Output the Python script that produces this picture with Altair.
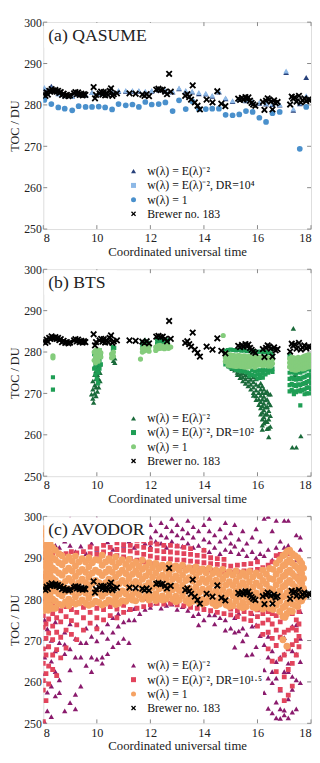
import altair as alt
import pandas as pd

FONT = "Liberation Serif"
W, H = 273, 211
XPATH = "M-1,-0.62L-0.62,-1L0,-0.38L0.62,-1L1,-0.62L0.38,0L1,0.62L0.62,1L0,0.38L-0.62,1L-1,0.62L-0.38,0Z"

X_TICKS = [8, 10, 12, 14, 16, 18]
Y_TICKS = [250, 260, 270, 280, 290, 300]
BREWER_LABEL = "Brewer no. 183"

# Brewer no. 183 (same in all panels): (time, TOC)
BREWER = [
    (8.03, 282.7), (8.08, 282.2), (8.12, 283.0), (8.17, 282.5), (8.22, 283.4), (8.27, 283.2),
    (8.31, 283.8), (8.36, 283.5), (8.40, 283.3), (8.45, 283.6), (8.50, 283.2), (8.55, 283.4),
    (8.60, 282.9), (8.65, 283.1), (8.70, 282.4), (8.76, 282.7), (8.82, 282.2), (8.88, 282.4),
    (8.94, 282.1), (9.00, 282.3), (9.15, 282.8), (9.20, 283.1), (9.25, 282.6), (9.30, 283.0),
    (9.36, 282.4), (9.42, 282.7), (9.47, 282.3), (9.52, 282.6), (9.57, 282.4), (9.88, 284.3),
    (9.93, 281.6), (9.97, 282.4), (10.10, 282.8), (10.16, 283.2), (10.21, 282.5), (10.26, 283.1),
    (10.31, 282.3), (10.36, 282.9), (10.42, 282.4), (10.48, 283.4), (10.53, 284.0), (10.58, 282.2),
    (10.63, 282.6), (10.75, 282.8), (11.22, 282.8), (11.45, 282.7), (11.70, 282.5), (11.78, 282.2),
    (11.86, 282.6), (11.95, 282.1), (12.22, 283.7), (12.30, 283.9), (12.38, 283.6), (12.46, 283.7),
    (12.55, 283.2), (12.62, 282.6), (12.70, 287.5), (12.76, 283.2), (13.30, 282.2), (13.38, 282.6),
    (13.45, 281.9), (13.52, 281.3), (13.58, 284.7), (13.66, 280.6), (13.76, 279.8), (13.85, 278.9),
    (14.10, 281.3), (14.32, 280.6), (14.50, 283.3), (14.65, 280.3), (14.80, 279.7), (15.28, 281.5),
    (15.35, 281.2), (15.42, 281.7), (15.48, 281.3), (15.55, 281.9), (15.60, 281.4), (15.66, 281.8),
    (15.72, 281.0), (15.78, 280.5), (15.84, 280.1), (15.92, 279.8), (16.20, 280.7), (16.26, 278.8),
    (16.32, 281.0), (16.38, 281.6), (16.44, 281.3), (16.50, 280.8), (16.56, 278.9), (16.62, 281.1),
    (16.68, 280.4), (16.75, 280.7), (17.22, 280.1), (17.28, 282.0), (17.33, 281.5), (17.40, 281.8),
    (17.46, 280.8), (17.55, 282.2), (17.62, 280.6), (17.68, 281.1), (17.75, 281.6), (17.82, 280.9),
    (17.90, 281.3), (17.97, 281.2),
]

# ---------------- (a) QASUME ----------------
A_TRI = [
    (8.04, [283.9]), (8.30, [284.5]), (8.56, [282.8]), (8.80, [282.3]), (9.08, [282.1]), (9.32, [282.6]),
    (9.58, [282.4]), (9.82, [283.0]), (10.07, [282.8]), (10.31, [282.7]), (10.57, [283.0]),
    (10.81, [283.3]), (11.08, [283.3]), (11.33, [283.3]), (11.57, [283.3]), (11.81, [283.1]),
    (12.05, [283.3]), (12.31, [283.6]), (12.56, [283.3]), (12.83, [283.1]), (13.07, [283.9]),
    (13.32, [283.3]), (13.56, [283.1]), (13.81, [282.7]), (14.07, [282.6]), (14.31, [282.1]),
    (14.56, [283.1]), (14.81, [281.5]), (15.07, [280.8]), (15.32, [281.3]), (15.57, [281.0]),
    (15.82, [280.6]), (16.07, [280.4]), (16.32, [280.2]), (16.56, [280.1]), (16.83, [280.0]),
    (17.07, [287.8]), (17.34, [278.7]), (17.58, [280.3]), (17.82, [286.6]),
]
A_LIGHT = [
    (8.04, [284.2]), (8.30, [284.0]), (8.56, [282.6]), (8.80, [282.2]), (9.08, [282.0]), (9.32, [282.5]),
    (9.58, [282.4]), (9.82, [283.0]), (10.07, [282.9]), (10.31, [282.7]), (10.57, [283.1]),
    (10.81, [283.5]), (11.08, [283.5]), (11.33, [283.5]), (11.57, [283.5]), (11.81, [283.3]),
    (12.05, [283.5]), (12.31, [283.8]), (12.56, [283.5]), (12.83, [283.3]), (13.07, [284.1]),
    (13.32, [283.5]), (13.56, [283.3]), (13.81, [283.0]), (14.07, [282.8]), (14.31, [282.3]),
    (14.56, [283.3]), (14.81, [281.7]), (15.07, [281.0]), (15.32, [281.5]), (15.57, [281.2]),
    (15.82, [280.8]), (16.07, [280.6]), (16.32, [280.4]), (16.56, [280.3]), (16.83, [280.1]),
    (17.07, [288.2]), (17.34, [279.0]), (17.58, [280.5]), (17.82, [282.2]),
]
A_CIRC = [
    (8.04, [281.2]), (8.30, [280.2]), (8.56, [279.4]), (8.80, [279.1]), (9.08, [278.7]), (9.32, [279.7]),
    (9.58, [279.5]), (9.82, [279.5]), (10.07, [279.6]), (10.31, [279.4]), (10.57, [278.9]),
    (10.81, [280.2]), (11.08, [279.9]), (11.33, [280.1]), (11.57, [279.5]), (11.81, [280.7]),
    (12.05, [280.1]), (12.31, [280.2]), (12.56, [280.6]), (12.83, [278.5]), (13.07, [281.1]),
    (13.32, [279.0]), (13.56, [280.9]), (13.81, [279.0]), (14.07, [279.0]), (14.31, [279.1]),
    (14.56, [279.1]), (14.81, [277.6]), (15.07, [277.5]), (15.32, [277.7]), (15.57, [278.5]),
    (15.82, [278.3]), (16.07, [276.9]), (16.32, [275.9]), (16.56, [278.0]), (16.83, [278.3]),
    (17.58, [269.4]), (17.82, [279.5]),
]

# ---------------- (b) BTS ----------------
B_TRI = [
    (9.80, [269.8]), (9.85, [268.8, 271.0, 273.0]), (9.88, [267.8]), (9.92, [270.0, 272.0, 274.5, 276.5]),
    (9.97, [269.4, 271.5, 273.5, 275.5, 277.5]), (10.02, [270.5, 272.5, 274.5, 276.5, 278.5]),
    (10.07, [271.5, 273.5, 275.5, 277.8, 279.5]), (10.12, [273.0, 275.0, 277.0]),
    (10.62, [277.9]), (10.67, [277.4, 278.5]), (11.80, [283.0, 281.8]), (12.30, [283.0]),
    (12.45, [282.5]), (12.60, [282.8]),
    (14.85, [278.0, 277.2]), (14.95, [278.2, 277.4, 276.6]), (15.05, [277.8, 276.9, 276.0]),
    (15.15, [277.5, 276.6, 275.6]), (15.25, [277.0, 276.1, 275.1, 274.5]),
    (15.35, [276.5, 275.6, 274.6, 273.8]), (15.45, [276.0, 275.0, 274.0, 273.0]),
    (15.55, [275.5, 274.5, 273.5, 272.4]), (15.65, [275.0, 274.0, 272.9, 271.8]),
    (15.75, [274.5, 273.4, 272.2, 271.0]), (15.85, [274.0, 272.8, 271.5, 270.2, 269.5]),
    (15.95, [273.5, 272.2, 270.8, 269.4, 268.5]), (16.05, [273.8, 271.8, 270.2, 268.6, 267.3]),
    (16.12, [272.5, 271.0, 269.5, 268.0, 266.5, 265.0]),
    (16.18, [271.8, 270.2, 268.6, 267.0, 265.4, 263.8, 262.3, 261.3]),
    (16.24, [271.0, 269.3, 267.6, 266.0, 264.3, 262.8]), (16.30, [270.2, 268.4, 266.7, 265.0, 263.4]),
    (16.36, [270.5, 268.6, 266.8, 265.0, 263.2, 261.5]),
    (16.42, [269.8, 267.8, 265.8, 263.8, 261.6, 259.5]),
    (16.48, [269.8, 267.2, 264.6, 262.0]),
    (17.34, [285.7]), (17.30, [257.0]), (17.45, [257.0]), (17.62, [259.7]),
    (17.40, [272.0, 274.5]), (17.60, [271.0, 273.5]), (17.80, [272.5]),
]
B_SQ = [
    (8.36, [273.9, 270.9]),
    (9.90, [279.5, 276.0]), (9.95, [278.5, 276.5, 274.5]), (10.00, [280.0, 277.5, 275.5, 273.5]),
    (10.05, [279.0, 277.0, 275.0, 272.5]), (10.10, [280.5, 278.0, 276.0]), (10.15, [279.0, 277.0]),
    (10.60, [281.2, 280.2, 279.0]), (10.65, [281.0]),
    (11.70, [281.5, 282.4]), (11.80, [281.8, 282.6]), (11.90, [281.6, 282.2]),
    (12.25, [282.0, 283.0]), (12.35, [282.3, 283.2]), (12.45, [282.0, 282.8]), (12.55, [282.2, 283.0]),
    (12.65, [282.0, 282.8]),
    (14.80, [280.3, 277.0]), (14.90, [280.5, 276.6]), (15.00, [280.6, 276.2]), (15.10, [280.5, 276.0]),
    (15.20, [280.4, 275.7]), (15.30, [280.5, 275.5]), (15.40, [280.3, 275.4]), (15.50, [280.4, 275.3]),
    (15.60, [280.2, 275.1]), (15.70, [280.3, 275.0, 274.2]), (15.80, [280.1, 275.6, 274.5]),
    (15.90, [280.2, 275.4, 274.3]), (16.00, [280.0, 275.5, 274.6, 273.6]),
    (16.10, [280.1, 275.6, 274.6, 273.8]), (16.20, [279.9, 275.7, 274.8, 273.8]),
    (16.30, [280.0, 275.6, 274.6]), (16.40, [279.8, 275.8, 275.0]), (16.50, [279.7, 275.5]),
    (16.56, [280.8, 279.2, 276.0, 275.2]),
    (17.20, [279.2, 275.0, 273.5, 272.0, 270.5]), (17.28, [275.2, 273.8, 272.3, 270.8]),
    (17.36, [275.0, 273.5, 272.0, 270.5, 269.8]), (17.44, [274.8, 273.3, 271.8, 270.3]),
    (17.52, [275.2, 273.7, 272.2, 270.7]), (17.60, [275.0, 273.5, 272.0, 270.5, 267.1]),
    (17.68, [275.3, 273.8, 272.3, 270.8]), (17.76, [275.5, 274.0, 272.5, 271.0, 269.8]),
    (17.84, [275.8, 274.3, 272.8, 271.3, 270.0]), (17.92, [276.0, 274.5, 273.0, 271.5, 270.0]),
    (18.00, [275.5, 274.0, 272.5, 271.0]),
]
B_CIRC = [
    (8.36, [279.1, 278.6]),
    (9.90, [280.0, 278.0]), (9.95, [280.3, 279.0, 277.4]), (10.00, [280.6, 279.5, 278.2]),
    (10.05, [280.2, 279.0, 277.8]), (10.10, [280.4, 279.2]), (10.15, [279.8, 278.8]),
    (10.55, [279.5, 278.6]), (10.62, [280.0, 279.0]),
    (11.63, [278.3]), (11.70, [280.0, 280.8]), (11.78, [280.3, 281.2]), (11.86, [280.5, 281.0]),
    (11.95, [280.2, 281.3]),
    (12.20, [280.4, 281.2]), (12.28, [280.8, 281.5]), (12.36, [280.9, 281.6]), (12.44, [281.0, 281.4]),
    (12.52, [280.8, 281.5]), (12.60, [281.0, 281.7]), (12.68, [280.9, 281.4]), (12.76, [281.2]),
    (14.72, [284.0]),
    (14.80, [279.6, 278.6, 277.7]), (14.90, [279.4, 278.4, 277.5, 276.8]),
    (15.00, [279.3, 278.3, 277.4, 276.7]), (15.10, [279.2, 278.2, 277.3, 276.6]),
    (15.20, [279.1, 278.1, 277.2, 276.5]), (15.30, [279.2, 278.2, 277.3, 276.6]),
    (15.40, [279.0, 278.0, 277.1, 276.5]), (15.50, [279.1, 278.1, 277.2, 276.4]),
    (15.60, [278.9, 277.9, 277.0, 276.3]), (15.70, [279.0, 278.0, 277.1, 276.4]),
    (15.80, [278.8, 277.8, 276.9]), (15.90, [278.9, 277.9, 277.0, 276.3]),
    (16.00, [278.7, 277.7, 276.8]), (16.10, [278.8, 277.8, 276.9]), (16.20, [278.6, 277.6, 276.7]),
    (16.30, [278.7, 277.7, 276.8]), (16.40, [278.6, 277.6, 276.6]), (16.50, [278.5, 277.5, 276.6]),
    (16.56, [278.2, 277.2]),
    (17.20, [278.4, 277.4, 276.4]), (17.28, [278.8, 277.8, 276.8, 275.8]),
    (17.36, [278.6, 277.6, 276.6, 275.7]), (17.44, [278.5, 277.5, 276.5, 275.6]),
    (17.52, [278.7, 277.7, 276.7, 275.8]), (17.60, [278.4, 277.4, 276.4]),
    (17.68, [278.8, 277.8, 276.8, 275.9]), (17.76, [279.0, 278.0, 277.0, 276.0]),
    (17.84, [279.2, 278.2, 277.2, 276.3]), (17.92, [279.3, 278.3, 277.3, 276.4]),
    (18.00, [279.0, 278.0, 277.0]),
]

# ---------------- (c) AVODOR ----------------
C_TRI = [
    (8.05, [250.3, 262.0, 266.0, 275.0, 290.0]), (8.15, [253.0, 257.5, 268.5, 272.8, 292.8]),
    (8.30, [251.6, 259.0, 265.0, 270.0, 288.5, 296.0]), (8.45, [256.6, 262.5, 267.5, 274.5, 293.0]),
    (8.60, [257.4, 260.5, 269.5, 292.5, 297.0]), (8.80, [253.0, 266.8, 269.1, 272.0, 289.5, 294.0]),
    (9.00, [255.0, 262.9, 268.0, 274.0, 293.0, 299.5]), (9.20, [253.5, 257.0, 266.0, 270.5, 291.5, 295.5]),
    (9.40, [259.0, 266.0, 269.5, 292.8, 298.0]), (9.60, [264.0, 269.5, 273.0, 291.0, 294.5]),
    (9.80, [262.5, 266.0, 271.0, 293.5, 296.8]), (10.00, [265.5, 269.9, 273.5, 292.0, 299.5]),
    (10.20, [264.5, 266.0, 272.0, 290.5, 295.0]), (10.40, [266.8, 270.5, 274.0, 293.8, 298.5]),
    (10.60, [268.5, 272.0, 275.5, 292.0, 296.0]), (10.80, [269.5, 273.5, 276.5, 294.5, 299.0]),
    (11.00, [270.5, 274.5, 293.0, 296.8]), (11.20, [269.5, 275.0, 277.5, 294.0, 298.0]),
    (11.40, [275.0, 277.7, 292.5, 295.5]), (11.60, [276.5, 294.5, 297.5]),
    (11.80, [277.5, 280.1, 293.5, 296.0, 299.0]), (12.00, [278.0, 292.8, 295.0, 298.0]),
    (12.20, [279.0, 294.0, 296.5]), (12.40, [277.8, 293.5, 295.5, 298.5]),
    (12.60, [278.5, 292.5, 295.0, 297.5]), (12.80, [278.8, 294.0, 296.5, 299.5]),
    (13.00, [277.5, 293.0, 295.5, 298.0]), (13.20, [278.2, 292.8, 294.8, 297.0]),
    (13.40, [277.3, 293.5, 296.0, 299.0]), (13.60, [276.0, 292.5, 295.0, 297.5]),
    (13.80, [273.8, 276.5, 293.0, 296.5]), (14.00, [275.0, 292.0, 294.5, 298.0]),
    (14.20, [276.2, 291.5, 293.8, 296.5, 299.5]), (14.40, [276.2, 274.0, 292.5, 295.5]),
    (14.60, [275.5, 291.0, 294.0, 297.0]), (14.80, [275.0, 272.5, 292.0, 295.0, 298.5]),
    (15.00, [273.0, 291.5, 293.5, 296.0]), (15.15, [268.4, 272.0, 275.5, 292.8, 298.0]),
    (15.30, [272.3, 276.6, 291.0, 294.5]), (15.45, [269.9, 273.0, 292.0, 296.5]),
    (15.60, [260.2, 266.5, 271.5, 290.5, 293.5]), (15.80, [266.7, 273.5, 276.5, 291.5, 295.0]),
    (15.95, [263.0, 268.5, 273.8, 290.0, 297.0]), (16.10, [258.5, 265.0, 271.2, 291.0, 294.0]),
    (16.25, [257.4, 262.9, 269.0, 290.5, 299.5]), (16.40, [253.6, 260.9, 266.0, 271.0, 292.0, 300.0]),
    (16.55, [252.5, 259.8, 262.5, 267.5, 289.5, 296.5]), (16.70, [251.3, 255.1, 260.9, 264.9, 292.5, 299.0]),
    (16.85, [251.2, 253.5, 258.0, 266.0, 290.5, 294.0]),
    (17.00, [252.0, 253.2, 262.5, 266.8, 270.7, 292.5, 299.0]),
    (17.15, [251.3, 255.9, 262.5, 264.5, 293.0, 299.0]), (17.30, [252.7, 258.2, 261.3, 267.5, 273.5, 291.5]),
    (17.45, [253.5, 260.5, 266.7, 273.8, 289.5, 295.5]), (17.60, [259.8, 264.9, 270.5, 277.0, 292.0, 295.0]),
]
C_SQ = [
    (8.00, [250.4, 258.0, 260.3, 264.5, 268.0, 273.2, 276.0, 280.0, 285.5, 291.0]),
    (8.10, [255.5, 262.0, 266.5, 270.5, 274.0, 277.5, 279.5, 292.5]),
    (8.20, [259.5, 263.8, 268.5, 271.8, 275.2, 278.0]), (8.35, [263.0, 266.5, 270.2, 273.5, 276.5, 279.0, 291.0]),
    (8.50, [261.5, 267.8, 272.0, 275.5, 278.0]), (8.65, [265.8, 270.8, 274.5, 277.2, 290.8]),
    (8.85, [268.2, 272.5, 275.8, 278.2, 291.0]), (9.05, [271.5, 274.8, 277.5, 291.5]),
    (9.25, [270.2, 273.8, 276.8, 279.0, 291.2]), (9.50, [272.5, 275.5, 278.0, 291.5]),
    (9.75, [274.2, 276.8, 278.8, 291.0, 292.6]), (10.00, [272.8, 275.5, 277.8, 290.8, 292.2]),
    (10.25, [275.0, 277.5, 291.4, 293.0]), (10.50, [276.0, 278.2, 290.8, 292.5]),
    (10.75, [275.5, 277.6, 290.5, 292.0, 293.6]), (11.00, [276.8, 278.5, 290.2, 291.8, 293.2]),
    (11.25, [277.5, 289.8, 291.6, 293.0]), (11.50, [277.8, 289.4, 291.2, 292.8, 294.2]),
    (11.75, [278.2, 289.0, 290.8, 292.5, 294.0]), (12.00, [278.6, 288.6, 290.4, 292.0, 293.6]),
    (12.25, [279.0, 288.3, 290.0, 291.7, 293.3]), (12.50, [278.8, 288.0, 289.8, 291.5, 293.0]),
    (12.75, [279.0, 288.0, 289.7, 291.4, 293.0]), (13.00, [278.6, 287.8, 289.5, 291.2, 292.8]),
    (13.25, [278.4, 287.8, 289.4, 291.0, 292.5]), (13.50, [278.0, 287.6, 289.2, 290.8, 292.2]),
    (13.75, [277.8, 287.5, 289.0, 290.6]), (14.00, [277.5, 287.2, 288.8, 290.4, 291.8]),
    (14.25, [277.2, 287.0, 288.6, 290.0]), (14.50, [276.8, 286.8, 288.4, 289.8]),
    (14.75, [276.5, 286.6, 288.2, 289.6]), (15.00, [276.2, 277.6, 286.5, 288.0]),
    (15.25, [275.8, 277.2, 286.6, 288.2]), (15.50, [275.2, 277.0, 286.8, 288.4]),
    (15.75, [274.8, 276.6, 287.0, 288.6]), (16.00, [273.5, 275.8, 277.4, 287.2, 289.0]),
    (16.20, [271.5, 274.2, 276.5, 287.6]), (16.40, [268.0, 272.0, 275.0, 277.0, 288.2]),
    (16.55, [265.0, 270.5, 274.0, 276.5, 289.0]), (16.70, [262.5, 268.8, 272.5, 276.0, 290.5]),
    (16.85, [258.2, 265.5, 270.8, 274.5, 290.8]), (17.00, [255.5, 261.2, 266.5, 272.0, 275.5]),
    (17.15, [256.8, 263.0, 268.0, 272.5, 291.0]), (17.30, [259.0, 264.5, 269.0, 273.0, 276.5]),
    (17.45, [266.5, 270.0, 272.5, 275.0, 285.5]), (17.55, [268.5, 271.0, 274.0, 277.0]),
]
C_CIRC = [
    (8.00, [297.0, 294.5, 292.0, 289.5, 287.0, 284.5, 282.0, 279.5, 277.2]),
    (8.05, [296.0, 293.5, 291.0, 288.5, 286.0, 283.5, 281.0, 278.5]),
    (8.10, [295.5, 293.0, 290.5, 288.0, 285.5, 283.0, 280.5, 278.0]),
    (8.18, [294.5, 292.0, 289.5, 287.0, 284.5, 282.0, 279.5, 277.3]),
    (8.25, [293.5, 291.0, 288.5, 286.0, 283.5, 281.0, 278.5]),
    (8.35, [292.5, 290.0, 287.5, 285.0, 282.5, 280.0, 277.8]),
    (8.45, [291.8, 289.5, 287.0, 284.5, 282.0, 279.5, 277.8]),
    (8.58, [291.0, 288.8, 286.3, 283.8, 281.3, 278.8]),
    (8.70, [290.5, 288.3, 285.8, 283.3, 280.8, 278.6]), (8.83, [289.3, 286.8, 284.3, 281.8, 279.3]),
    (8.95, [290.2, 287.5, 285.0, 282.5, 280.0, 278.4]), (9.08, [289.2, 286.8, 284.2, 281.7, 279.2]),
    (9.20, [290.4, 288.0, 285.5, 283.0, 280.5, 278.8]), (9.33, [289.0, 286.5, 284.0, 281.5, 279.1]),
    (9.45, [289.8, 287.2, 284.8, 282.3, 279.8]), (9.58, [289.0, 286.5, 284.0, 281.5, 279.0]),
    (9.70, [290.0, 287.8, 285.3, 282.8, 280.3, 278.5]), (9.83, [288.8, 286.3, 283.8, 281.3, 278.9]),
    (9.95, [289.5, 287.0, 284.5, 282.0, 279.5]), (10.08, [289.4, 286.5, 284.0, 281.5, 279.2]),
    (10.20, [290.6, 288.2, 285.7, 283.2, 280.7, 278.6]), (10.33, [289.0, 286.5, 284.0, 281.5, 279.0]),
    (10.45, [289.8, 287.3, 284.8, 282.3, 279.8]), (10.58, [289.0, 286.5, 284.0, 281.5, 279.3]),
    (10.70, [290.2, 287.8, 285.3, 282.8, 280.3, 278.7]), (10.83, [288.8, 286.2, 283.7, 281.2, 279.0]),
    (10.95, [289.5, 287.0, 284.5, 282.0, 279.6]), (11.08, [288.4, 286.2, 283.8, 281.3, 279.5]),
    (11.20, [289.6, 287.5, 285.0, 282.5, 280.2]), (11.33, [288.2, 286.0, 283.6, 281.1, 279.8]),
    (11.45, [289.0, 286.8, 284.3, 281.8, 279.6]), (11.58, [288.0, 285.9, 283.5, 281.0]),
    (11.70, [289.4, 287.2, 284.8, 282.3, 280.0]), (11.83, [287.8, 285.6, 283.2, 280.8]),
    (11.95, [288.8, 286.5, 284.0, 281.5, 279.8]), (12.08, [287.6, 285.3, 282.8, 280.4]),
    (12.20, [288.6, 286.3, 283.8, 281.3, 279.6]), (12.33, [287.4, 285.0, 282.5, 280.2]),
    (12.45, [288.2, 285.8, 283.3, 280.8, 279.8]), (12.58, [287.2, 284.8, 282.3, 280.0]),
    (12.70, [288.4, 286.0, 283.5, 281.0]), (12.83, [287.2, 284.8, 282.3, 280.0]),
    (12.95, [288.0, 285.6, 283.2, 280.7, 279.4]), (13.08, [287.0, 284.6, 282.1, 279.8]),
    (13.20, [288.2, 285.8, 283.3, 280.9]), (13.33, [287.0, 284.5, 282.0, 279.6]),
    (13.45, [287.6, 285.2, 282.7, 280.3, 279.0]), (13.58, [286.7, 284.3, 281.8, 279.5]),
    (13.70, [287.8, 285.4, 282.9, 280.4]), (13.83, [286.5, 284.0, 281.6, 279.2]),
    (13.95, [287.3, 284.9, 282.4, 280.0, 278.8]), (14.08, [286.4, 284.0, 281.5, 279.2]),
    (14.20, [287.5, 285.0, 282.6, 280.2]), (14.33, [286.2, 283.8, 281.3, 279.0]),
    (14.45, [287.0, 284.6, 282.1, 279.7, 278.4]), (14.58, [286.0, 283.6, 281.1, 278.8]),
    (14.70, [287.2, 284.8, 282.3, 279.9]), (14.83, [285.8, 283.4, 281.0, 278.6]),
    (14.95, [286.6, 284.2, 281.8, 279.4, 278.2]), (15.08, [285.8, 283.3, 280.8, 278.4]),
    (15.20, [286.8, 284.4, 282.0, 279.6]), (15.33, [285.5, 283.1, 280.6, 278.3]),
    (15.45, [286.4, 284.0, 281.6, 279.2, 277.9]), (15.58, [285.5, 283.0, 280.5, 278.2]),
    (15.70, [286.7, 284.2, 281.8, 279.4]), (15.83, [285.4, 282.9, 280.4, 278.1]),
    (15.95, [286.3, 283.9, 281.5, 279.0, 277.8]), (16.08, [285.6, 283.2, 280.7, 278.3]),
    (16.20, [287.0, 284.5, 282.0, 279.5, 277.6]), (16.33, [286.0, 283.6, 281.2, 278.7]),
    (16.45, [287.4, 285.0, 282.5, 280.0, 277.8]), (16.58, [287.2, 284.8, 282.3, 279.8, 277.5]),
    (16.70, [288.6, 286.0, 283.5, 281.0, 278.5]), (16.83, [289.5, 287.0, 284.5, 282.0, 279.5, 277.0]),
    (16.95, [290.5, 288.0, 285.5, 283.0, 280.5, 278.0, 275.8, 270.2]),
    (17.03, [290.8, 288.3, 285.8, 283.3, 280.8, 278.3, 275.6]),
    (17.10, [291.5, 289.0, 286.5, 284.0, 281.5, 279.0, 276.5, 268.6]),
    (17.20, [291.8, 289.5, 287.0, 284.5, 282.0, 279.5, 277.2]),
    (17.30, [291.0, 288.7, 286.2, 283.7, 281.2, 278.8, 277.0]),
    (17.40, [290.5, 288.0, 285.5, 283.0, 280.5, 278.5]),
    (17.50, [290.0, 287.5, 285.0, 282.5, 280.0, 278.2]),
    (17.58, [289.3, 286.8, 284.3, 281.8, 279.5]),
    (17.65, [288.6, 286.2, 283.8, 281.4, 279.6]),
    (17.72, [287.5, 285.0, 282.6, 280.4]),
]


def expand(cols, name):
    return pd.DataFrame([{"t": t, "v": v, "s": name} for t, vals in cols for v in vals])


def brewer_df():
    return pd.DataFrame([{"t": t, "v": v, "s": BREWER_LABEL} for t, v in BREWER])


def panel(title, box_w, labels, colors, sizes, tri, sq, circ, light_tri=None):
    names = labels + [BREWER_LABEL]
    xs = alt.Scale(domain=[8, 18], nice=False, zero=False)
    ys = alt.Scale(domain=[250, 300], nice=False, zero=False)
    xax = alt.Axis(values=X_TICKS, ticks=False, domain=False, grid=False, labelFont=FONT,
                   labelFontSize=12.5, labelColor="#222", labelPadding=3,
                   title="Coordinated universal time", titleFont=FONT, titleFontSize=13,
                   titleFontWeight="normal", titleColor="#222", titlePadding=1)
    yax = alt.Axis(values=Y_TICKS, ticks=False, domain=False, grid=False, labelFont=FONT,
                   labelFontSize=12, labelColor="#222", labelPadding=2,
                   title="TOC / DU", titleFont=FONT, titleFontSize=12.5,
                   titleFontWeight="normal", titleColor="#222", titlePadding=2)
    X = alt.X("t:Q", scale=xs, axis=xax)
    Y = alt.Y("v:Q", scale=ys, axis=yax)
    leg = alt.Legend(orient="none", legendX=86, legendY=146, direction="vertical",
                     labelFont=FONT, labelFontSize=12, labelColor="#111", rowPadding=2.5,
                     labelOffset=8, padding=0, symbolStrokeWidth=0, symbolSize=26,
                     fillColor="white")
    color = alt.Color("s:N", scale=alt.Scale(domain=names, range=colors + ["#000000"]), legend=leg, title=None)
    shape = alt.Shape("s:N", scale=alt.Scale(domain=names, range=["triangle-up", "square", "circle", XPATH]),
                      legend=leg, title=None)

    layers = []
    # inward ticks
    xt = pd.DataFrame({"t": X_TICKS})
    yt = pd.DataFrame({"v": Y_TICKS})
    tick_style = dict(color="#888", strokeWidth=1)
    layers.append(alt.Chart(xt).mark_rule(**tick_style).encode(x=X, y=alt.value(H), y2=alt.value(H - 4)))
    layers.append(alt.Chart(xt).mark_rule(**tick_style).encode(x=X, y=alt.value(0), y2=alt.value(4)))
    layers.append(alt.Chart(yt).mark_rule(**tick_style).encode(y=Y, x=alt.value(0), x2=alt.value(4)))
    layers.append(alt.Chart(yt).mark_rule(**tick_style).encode(y=Y, x=alt.value(W), x2=alt.value(W - 4)))

    def pts(df, sz):
        return (alt.Chart(df).mark_point(filled=True, opacity=1, clip=True, strokeWidth=0, size=sz)
                .encode(x=X, y=Y, color=color, shape=shape))

    layers.append(pts(expand(tri, names[0]), sizes[0]))
    if light_tri is not None:
        layers.append(alt.Chart(expand(light_tri, "light")).mark_point(
            filled=True, opacity=1, clip=True, strokeWidth=0, shape="triangle-up", size=sizes[0])
            .encode(x=X, y=Y, color=alt.value(colors[1])))
    if sq:
        layers.append(pts(expand(sq, names[1]), sizes[1]))
    layers.append(pts(expand(circ, names[2]), sizes[2]))
    layers.append(pts(brewer_df(), sizes[3]))

    tdf = pd.DataFrame({"txt": [title]})
    layers.append(alt.Chart(tdf).mark_rect(color="white").encode(
        x=alt.value(1), x2=alt.value(box_w), y=alt.value(1), y2=alt.value(26)))
    layers.append(alt.Chart(tdf).mark_text(
        align="left", baseline="middle", font=FONT, fontSize=18, color="#222")
        .encode(x=alt.value(5), y=alt.value(14), text="txt:N"))
    return alt.layer(*layers).properties(width=W, height=H)


pa = panel("(a) QASUME", 110,
           ["w(λ) = E(λ)⁻²", "w(λ) = E(λ)⁻², DR=10⁴", "w(λ) = 1"],
           ["#27407a", "#8db8e6", "#4a90cc"], [34, 16, 34, 48],
           A_TRI, [], A_CIRC, light_tri=A_LIGHT)
pb = panel("(b) BTS", 75,
           ["w(λ) = E(λ)⁻²", "w(λ) = E(λ)⁻², DR=10²", "w(λ) = 1"],
           ["#1a6a3a", "#1f9e55", "#84cc7c"], [30, 18, 28, 48],
           B_TRI, B_SQ, B_CIRC)
pc = panel("(c) AVODOR", 108,
           ["w(λ) = E(λ)⁻²", "w(λ) = E(λ)⁻², DR=10¹·⁵", "w(λ) = 1"],
           ["#8a1a6c", "#e2445c", "#f5a263"], [30, 24, 50, 48],
           C_TRI, C_SQ, C_CIRC)

chart = (alt.vconcat(pa, pb, pc, spacing=4)
         .resolve_scale(color="independent", shape="independent")
         .resolve_legend(color="independent", shape="independent")
         .properties(padding=0)
         .configure_view(stroke="#999", strokeWidth=1)
         .configure(font=FONT))

chart.save("out.html", embed_options={"renderer": "svg", "actions": False})
